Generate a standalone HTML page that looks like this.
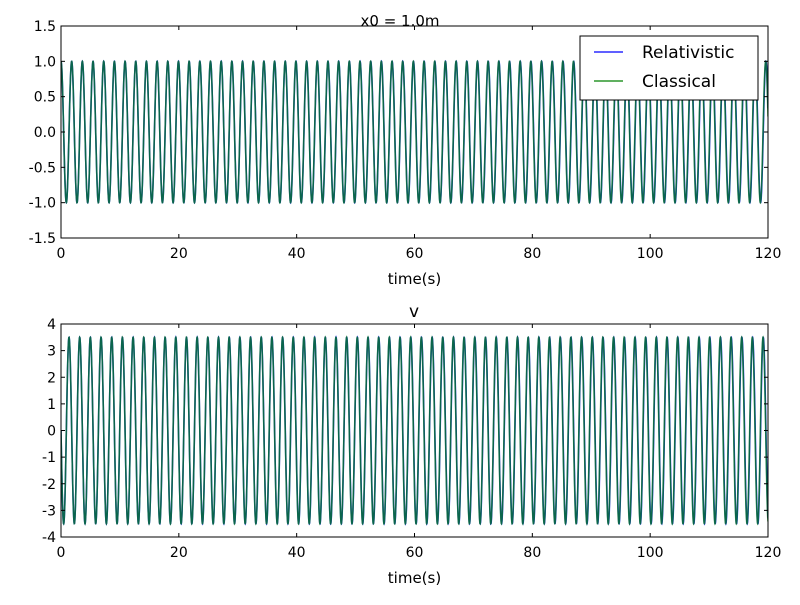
<!DOCTYPE html>
<html><head><meta charset="utf-8"><style>
body{margin:0;background:#fff;}
svg text{font-family:"DejaVu Sans","Liberation Sans",sans-serif;fill:#000;}
</style></head><body>
<svg id="chart" width="800" height="600" xmlns="http://www.w3.org/2000/svg">
<rect width="800" height="600" fill="#fff"/>
</svg>
<script>
// data
const timeRange = [0, 120];
const xTicks = [0, 20, 40, 60, 80, 100, 120];
const posTicks = [-1.5, -1.0, -0.5, 0.0, 0.5, 1.0, 1.5];
const velTicks = [-4, -3, -2, -1, 0, 1, 2, 3, 4];
const seriesNames = ["Relativistic", "Classical"];
const seriesColors = ["#0000ff", "#008000"];
const amplitudes = [1.0, 1.0];
const omegas = [3.466, 3.467];
const vMax = [3.5, 3.5];

const svg = document.getElementById('chart');
const NS = 'http://www.w3.org/2000/svg';
function mk(tag, attrs, parent) {
  const e = document.createElementNS(NS, tag);
  for (const k in attrs) e.setAttribute(k, attrs[k]);
  (parent || svg).appendChild(e);
  return e;
}
const X0 = 61, X1 = 768;
function xs(t) { return X0 + (t - timeRange[0]) / (timeRange[1] - timeRange[0]) * (X1 - X0); }

function drawPanel(name, top, bot, ymin, ymax, ticks, fmt, fn, title, titleY) {
  const ys = v => bot - (v - ymin) / (ymax - ymin) * (bot - top);
  const g = mk('g', {});
  
  
  const clipId = name + '-clip';
  const cp = mk('clipPath', {id: clipId}, g);
  mk('rect', {x: X0, y: top, width: X1 - X0, height: bot - top}, cp);
  const sg = mk('g', {'clip-path': 'url(#' + clipId + ')'}, g);
  for (let s = 0; s < seriesNames.length; s++) {
    let d = '';
    const N = 5000;
    for (let i = 0; i <= N; i++) {
      const t = timeRange[0] + (timeRange[1] - timeRange[0]) * i / N;
      d += (i ? 'L' : 'M') + xs(t).toFixed(2) + ',' + ys(fn(s, t)).toFixed(2);
    }
    const p = mk('path', {d: d, fill: 'none', stroke: seriesColors[s], 'stroke-width': 1.6, opacity: s === 1 ? 0.7 : 0.85}, sg);
    
    
  }
  const frame = mk('rect', {x: X0, y: top, width: X1 - X0, height: bot - top, fill: 'none', stroke: '#000', 'stroke-width': 1}, g);
  
  
  xTicks.forEach(t => {
    const x = xs(t);
    mk('line', {x1: x, x2: x, y1: bot, y2: bot - 4, stroke: '#000'}, g);
    mk('line', {x1: x, x2: x, y1: top, y2: top + 4, stroke: '#000'}, g);
    const lb = mk('text', {x: x, y: bot + 20, 'text-anchor': 'middle', 'font-size': 14}, g);
    lb.textContent = t;
    
    
  });
  ticks.forEach(v => {
    const y = ys(v);
    mk('line', {x1: X0, x2: X0 + 4, y1: y, y2: y, stroke: '#000'}, g);
    mk('line', {x1: X1, x2: X1 - 4, y1: y, y2: y, stroke: '#000'}, g);
    const lb = mk('text', {x: X0 - 5, y: y + 5, 'text-anchor': 'end', 'font-size': 14}, g);
    lb.textContent = fmt(v);
    
    
  });
  const xl = mk('text', {x: (X0 + X1) / 2, y: bot + 46, 'text-anchor': 'middle', 'font-size': 15}, g);
  xl.textContent = 'time(s)';
  
  
  const tt = mk('text', {x: title.x, y: titleY, 'text-anchor': 'middle', 'font-size': title.size}, g);
  tt.textContent = title.text;
  
  
}

drawPanel('position-panel', 26, 238, -1.5, 1.5, posTicks, v => v.toFixed(1),
  (s, t) => amplitudes[s] * Math.cos(omegas[s] * t), {text: 'x0 = 1.0m', x: 400, size: 15}, 26);
drawPanel('velocity-panel', 324, 537, -4, 4, velTicks, v => String(v),
  (s, t) => -vMax[s] * Math.sin(omegas[s] * t), {text: 'v', x: 414, size: 17}, 317);

// legend
const lg = mk('g', {});


mk('rect', {x: 580, y: 36, width: 178, height: 64, fill: '#fff', stroke: '#000'}, lg);
seriesNames.forEach((n, i) => {
  const y = 52 + i * 29;
  const ln = mk('line', {x1: 594, x2: 623, y1: y, y2: y, stroke: seriesColors[i], 'stroke-width': 1.2}, lg);
  
  
  const tx = mk('text', {x: 642, y: y + 6, 'font-size': 17}, lg);
  tx.textContent = n;
  
  
});
</script>
</body></html>
